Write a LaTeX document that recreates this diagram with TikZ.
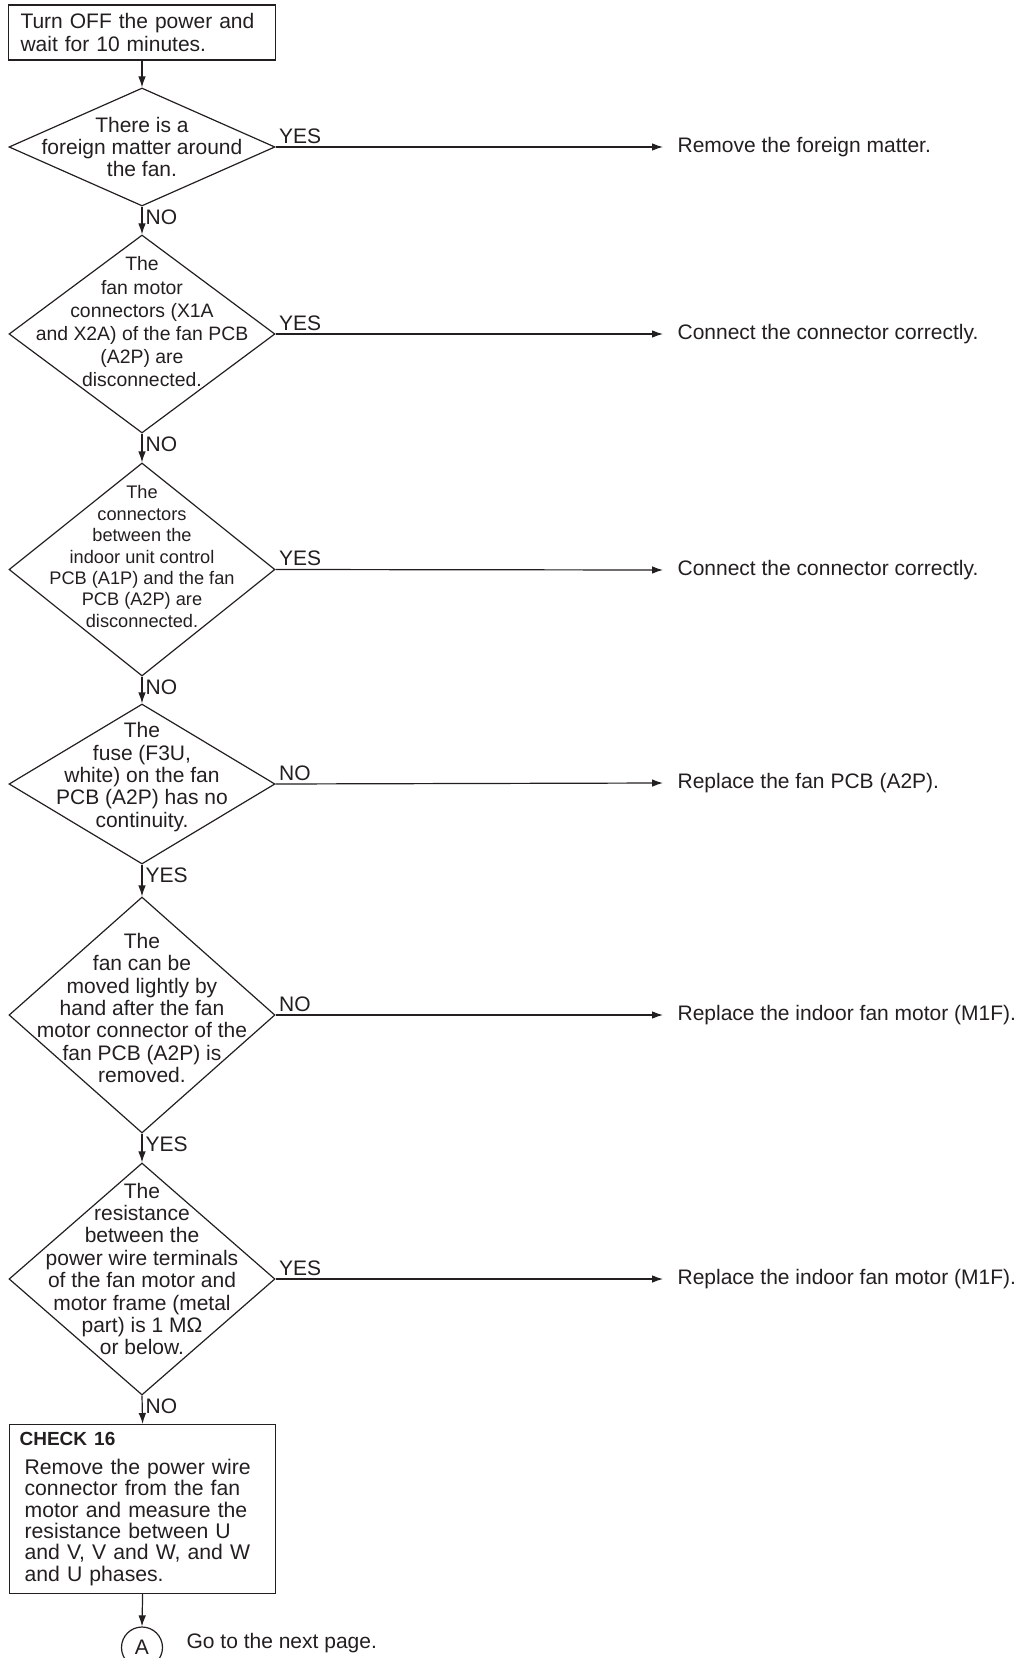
\documentclass[tikz,border=0pt]{standalone}
\usepackage{fontspec}
\setmainfont{Liberation Sans}
\usetikzlibrary{arrows.meta,shapes.geometric,positioning}
\definecolor{ink}{HTML}{231F20}

\begin{document}
\begin{tikzpicture}[
  x=0.5pt, y=-0.5pt, >={Latex[length=5.5pt,width=3.8pt]}, line width=0.6pt,
  txt/.style={font=\fontsize{10.5}{11.2}\selectfont, text=ink},
  box/.style={txt, draw=ink, rectangle, align=left, inner ysep=0pt},
  decision/.style={draw=ink, diamond, minimum width=133pt, inner sep=0pt},
  dtext/.style={txt, align=center, inner sep=0pt},
  act/.style={txt, anchor=west, inner xsep=7pt},
  lbl/.style={txt, inner sep=1.5pt},
  conn/.style={->, draw=ink},
]
\useasboundingbox (0,0) rectangle (1030,1658);

% start
\node[box, minimum width=133.5pt, minimum height=27.5pt, text width=121.5pt, inner xsep=6pt] (start) at (142,32.5)
  {Turn OFF the power and\\wait for 10 minutes.};

% decisions (shape + text)
\node[decision, minimum height=59pt] (foreign) at (142,147) {};
\node[dtext, font=\fontsize{10.5}{10.9}\selectfont] (foreignq) at (foreign) {There is a\\foreign matter around\\the fan.};

\node[decision, minimum height=99pt] (motorcn) at (142,334) {};
\node[dtext, yshift=6pt, font=\fontsize{9.7}{11.6}\selectfont] (motorcnq) at (motorcn)
  {The\\fan motor\\connectors (X1A\\and X2A) of the fan PCB\\(A2P) are\\disconnected.};

\node[decision, minimum height=106.5pt] (pcbcn) at (142,569.5) {};
\node[dtext, yshift=6.5pt, font=\fontsize{9.1}{10.7}\selectfont] (pcbcnq) at (pcbcn)
  {The\\connectors\\between the\\indoor unit control\\PCB (A1P) and the fan\\PCB (A2P) are\\disconnected.};

\node[decision, minimum height=80pt] (fuse) at (142,784) {};
\node[dtext, yshift=3.5pt] (fuseq) at (fuse)
  {The\\fuse (F3U,\\white) on the fan\\PCB (A2P) has no\\continuity.};

\node[decision, minimum height=118pt] (turn) at (142,1015) {};
\node[dtext, yshift=3.5pt] (turnq) at (turn)
  {The\\fan can be\\moved lightly by\\hand after the fan\\motor connector of the\\fan PCB (A2P) is\\removed.};

\node[decision, minimum height=116pt] (insul) at (142,1279) {};
\node[dtext, yshift=5pt] (insulq) at (insul)
  {The\\resistance\\between the\\power wire terminals\\of the fan motor and\\motor frame (metal\\part) is 1 MΩ\\or below.};

% check box
\node[box, anchor=north west, minimum width=133pt, minimum height=84.5pt, text width=123pt, inner xsep=5pt,
  font=\fontsize{10.6}{10.7}\selectfont] (check) at (9,1424)
  {{\fontsize{9.5}{11}\selectfont\bfseries CHECK 16}\par\vspace{3.5pt}\leftskip=2.5pt
   Remove the power wire\\connector from the fan\\motor and measure the\\resistance between U\\and V, V and W, and W\\and U phases.\par};

% connector to next page
\node[txt, draw=ink, circle, minimum size=20.5pt, inner sep=0pt] (goA) at (142,1647.5) {A};
\node[txt, anchor=west, inner sep=2pt] (nextpg) at (182,1643) {Go to the next page.};

% actions (right column)
\node[act] (clean) at (663,147) {Remove the foreign matter.};
\node[act] (fix1) at (663,334) {Connect the connector correctly.};
\node[act] (fix2) at (663,570) {Connect the connector correctly.};
\node[act] (newpcb) at (663,783) {Replace the fan PCB (A2P).};
\node[act] (newmot1) at (663,1015) {Replace the indoor fan motor (M1F).};
\node[act] (newmot2) at (663,1279) {Replace the indoor fan motor (M1F).};

% main flow
\draw[conn] (start.south) -- (foreign.north);
\draw[conn] (foreign.south) -- node[lbl, pos=0, anchor=north west]{NO} (motorcn.north);
\draw[conn] (motorcn.south) -- node[lbl, pos=0, anchor=north west]{NO} (pcbcn.north);
\draw[conn] (pcbcn.south) -- node[lbl, pos=0, anchor=north west]{NO} (fuse.north);
\draw[conn] (fuse.south) -- node[lbl, pos=0, anchor=north west]{YES} (turn.north);
\draw[conn] (turn.south) -- node[lbl, pos=0, anchor=north west]{YES} (insul.north);
\draw[conn] (insul.south) -- node[lbl, pos=0, anchor=north west]{NO} (check.north);
\draw[conn] (check.south) -- (goA.north);

% branches
\draw[conn] (foreign.east) -- node[lbl, pos=0, anchor=south west]{YES} (clean.west);
\draw[conn] (motorcn.east) -- node[lbl, pos=0, anchor=south west]{YES} (fix1.west);
\draw[conn] (pcbcn.east) -- node[lbl, pos=0, anchor=south west]{YES} (fix2.west);
\draw[conn] (fuse.east) -- node[lbl, pos=0, anchor=south west]{NO} (newpcb.west);
\draw[conn] (turn.east) -- node[lbl, pos=0, anchor=south west]{NO} (newmot1.west);
\draw[conn] (insul.east) -- node[lbl, pos=0, anchor=south west]{YES} (newmot2.west);
\end{tikzpicture}
\end{document}
